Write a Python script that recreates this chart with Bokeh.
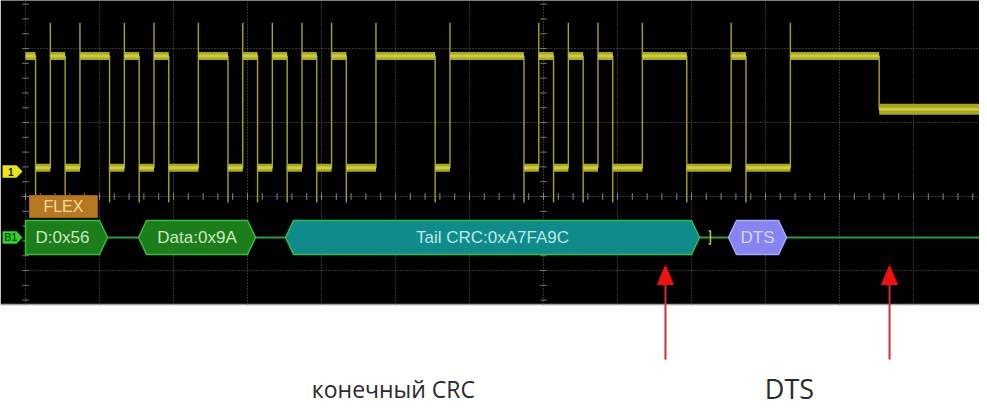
from bokeh.plotting import figure
from bokeh.models import Range1d
from bokeh.core.properties import value
from bokeh.embed import file_html
from bokeh.resources import INLINE

# ---------------- data (time in ns, vertical in divisions) ----------------
bit_ns = 100                      # FlexRay 10 Mbit/s
first_bit_ns = -32                # start of first visible bit
bits = [1, 0, 1, 0, 1, 1, 0, 1, 0, 1, 0, 0, 1, 1, 0, 1, 0, 1, 0, 1,
        0, 1, 0, 0, 1, 1, 1, 1, 0, 1, 1, 1, 1, 1, 0, 1, 0, 1, 0, 1,
        0, 0, 1, 1, 1, 0, 0, 0, 1, 0, 0, 0, 1, 1, 1, 1, 1, 1]
level_high = 1.90
level_low = 0.39
level_idle = 1.18
spike_top = 2.35
spike_bottom = -0.08
trace_start_ns = 0
trace_end_ns = 6446

seg_labels = ["D:0x56", "Data:0x9A", "Tail CRC:0xA7FA9C", "DTS"]
seg_start_ns = [0, 764, 1757, 4750]
seg_end_ns = [554, 1554, 4554, 5142]
seg_open_left = [True, False, False, False]
seg_fill = ["#1b7d1b", "#1b7d1b", "#0f8b8b", "#8585f2"]
seg_line = ["#35c035", "#35c035", "#2fbf4a", "#a9a9ff"]
seg_text_color = ["#cfe8c0", "#cfe8c0", "#bde8e8", "#d6d6ff"]
bracket_ns = 4628

arrow_ns = [4324, 5838]
caption_texts = ["конечный CRC", "DTS"]
caption_ns = [2486, 5162]
caption_sizes = ["23px", "27px"]

# ---------------- geometry ----------------
H = 406
X0, X1 = -168.9, 6445.9
Y_TOP = 2.649
Y_BOT = Y_TOP - H / 74.0
SCOPE_BOT = -1.459
bus_y = -0.554
bus_half = 0.23
chamfer = 54

p = figure(width=979, height=H, x_range=Range1d(X0, X1), y_range=Range1d(Y_BOT, Y_TOP),
           output_backend="svg", toolbar_location=None, x_axis_type=None, y_axis_type=None,
           background_fill_color="white", border_fill_color="white", outline_line_color=None,
           min_border=0)
p.grid.visible = False
p.styles = {"margin-bottom": "-8px"}

# scope screen
p.quad(left=[X0], right=[X1], bottom=[SCOPE_BOT], top=[Y_TOP + 0.2], fill_color="black", line_color=None)
p.segment(x0=[X0], y0=[SCOPE_BOT], x1=[X1], y1=[SCOPE_BOT], line_color="#a0a0a0", line_width=1.5)

# graticule
gx = [500 * k for k in range(0, 13)]
gy = [-1, 0, 1, 2]
p.segment(x0=gx, y0=[SCOPE_BOT] * len(gx), x1=gx, y1=[Y_TOP] * len(gx),
          line_color="#6a6a6a", line_width=1, line_dash="1 2")
p.segment(x0=[0] * len(gy), y0=gy, x1=[X1] * len(gy), y1=gy,
          line_color="#6a6a6a", line_width=1, line_dash="1 2")
tx = [100 * k for k in range(0, 65)]
p.segment(x0=tx, y0=[-0.045] * len(tx), x1=tx, y1=[0.045] * len(tx), line_color="#8a8a8a", line_width=1)
ty = [0.2 * k for k in range(-7, 14)]
for cx in (0, 3500):
    p.segment(x0=[cx - 22] * len(ty), y0=ty, x1=[cx + 22] * len(ty), y1=ty, line_color="#7a7a7a", line_width=1)

# ---------------- waveform ----------------
runs = []
k = 0
while k < len(bits):
    j = k
    while j < len(bits) and bits[j] == bits[k]:
        j += 1
    runs.append((first_bit_ns + bit_ns * k, first_bit_ns + bit_ns * j, bits[k]))
    k = j
idle_start = first_bit_ns + bit_ns * len(bits)

lx0, lx1, ly = [], [], []
for a, b, v in runs:
    lx0.append(max(a, trace_start_ns))
    lx1.append(b)
    ly.append(level_high if v else level_low)
ex, ey0, ey1 = [], [], []
for i in range(1, len(runs)):
    t = runs[i][0]
    if runs[i][2] == 1:
        ex.append(t); ey0.append(level_low); ey1.append(spike_top)
    else:
        ex.append(t); ey0.append(level_high); ey1.append(spike_bottom)
ex.append(idle_start); ey0.append(level_high); ey1.append(level_idle)

p.segment(x0=ex, y0=ey0, x1=ex, y1=ey1, line_color="#a5a52a", line_width=1.4)
p.segment(x0=lx0, y0=ly, x1=lx1, y1=ly, line_color="#a8a822", line_width=8)
p.segment(x0=lx0, y0=ly, x1=lx1, y1=ly, line_color="#cdcd3a", line_width=3)
p.segment(x0=[idle_start], y0=[level_idle], x1=[trace_end_ns], y1=[level_idle],
          line_color="#a5a522", line_width=11)
p.segment(x0=[idle_start], y0=[level_idle], x1=[trace_end_ns], y1=[level_idle],
          line_color="#cccc38", line_width=3)

# ---------------- decoded bus ----------------
p.line([trace_start_ns, trace_end_ns], [bus_y, bus_y], line_color="#2e9e2e", line_width=2)
xs, ys = [], []
for a, b, op in zip(seg_start_ns, seg_end_ns, seg_open_left):
    if op:
        xs.append([a, b - chamfer, b, b - chamfer, a])
        ys.append([bus_y + bus_half, bus_y + bus_half, bus_y, bus_y - bus_half, bus_y - bus_half])
    else:
        xs.append([a, a + chamfer, b - chamfer, b, b - chamfer, a + chamfer])
        ys.append([bus_y, bus_y + bus_half, bus_y + bus_half, bus_y, bus_y - bus_half, bus_y - bus_half])
p.patches(xs, ys, fill_color=seg_fill, line_color=seg_line, line_width=1.5)
tcx = [(a + b - (chamfer if op else 0)) / 2 for a, b, op in zip(seg_start_ns, seg_end_ns, seg_open_left)]
p.text(x=tcx, y=[bus_y] * len(tcx), text=seg_labels, text_color=seg_text_color,
       text_font=value("Liberation Sans"), text_font_size="17px",
       text_align="center", text_baseline="middle")
# small yellow bracket
p.segment(x0=[bracket_ns, bracket_ns - 12, bracket_ns - 12], y0=[bus_y - 0.09, bus_y + 0.09, bus_y - 0.09],
          x1=[bracket_ns, bracket_ns, bracket_ns], y1=[bus_y + 0.09, bus_y + 0.09, bus_y - 0.09],
          line_color="#d8c040", line_width=1.5)

# FLEX label
p.quad(left=[27], right=[486], bottom=[-0.284], top=[0.0135], fill_color="#b8781e", line_color="#9a6418")
p.text(x=[256], y=[-0.135], text=["FLEX"], text_color="#f2dcaa", text_font=value("Liberation Sans"),
       text_font_size="16px", text_align="center", text_baseline="middle")

# channel tags
tag_y = [0.338, bus_y]
tag_fill = ["#e6e619", "#2fd42f"]
tag_text = ["1", "B1"]
tag_txt_col = ["#202000", "#0d5a0d"]
txs, tys = [], []
for yc in tag_y:
    txs.append([-155, -61, -20, -61, -155])
    tys.append([yc + 0.085, yc + 0.085, yc, yc - 0.085, yc - 0.085])
p.patches(txs, tys, fill_color=tag_fill, line_color=None)
p.text(x=[-100, -100], y=tag_y, text=tag_text, text_color=tag_txt_col, text_font=value("Liberation Sans"),
       text_font_size="10px", text_font_style="bold", text_align="center", text_baseline="middle")

# ---------------- annotations below ----------------
p.segment(x0=arrow_ns, y0=[-2.203] * 2, x1=arrow_ns, y1=[-1.15] * 2, line_color="#d42a3a", line_width=2)
p.patches([[a - 54, a, a + 54] for a in arrow_ns], [[-1.189, -0.932, -1.189] for a in arrow_ns],
          fill_color="#f01010", line_color="#f01010")
for t, s, x in zip(caption_texts, caption_sizes, caption_ns):
    p.text(x=[x], y=[Y_BOT + 18 / 74.0], text=[t], text_color="#2a2a2a", text_font=value("Open Sans"),
           text_font_size=s, text_align="center", text_baseline="alphabetic")

open("out.html", "w").write(file_html(p, INLINE))
